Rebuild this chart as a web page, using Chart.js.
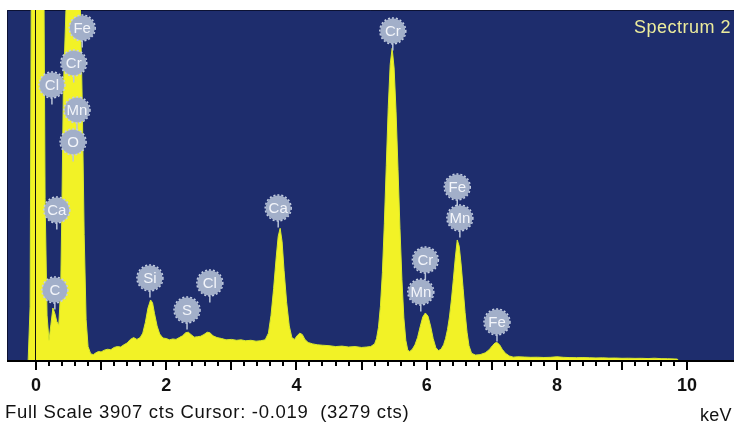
<!DOCTYPE html>
<html>
<head>
<meta charset="utf-8">
<script src="https://cdn.jsdelivr.net/npm/chart.js@4.4.1/dist/chart.umd.min.js"></script>
<style>
  html,body{margin:0;padding:0;background:#fff;}
  #wrap{position:relative;width:734px;height:427px;overflow:hidden;}
  #c{position:absolute;left:0;top:0;}
  .txt{position:absolute;font-family:'Liberation Sans',Arial,sans-serif;color:#111;white-space:pre;}
</style>
</head>
<body>
<div id="wrap">
  <canvas id="c" width="734" height="427"></canvas>
  <div id="caption" class="txt" style="left:5px;top:401px;font-size:18.5px;letter-spacing:0.7px;"></div>
  <div id="unit" class="txt" style="left:700px;top:405px;font-size:18px;letter-spacing:0.3px;">keV</div>
  <div id="specName" class="txt" style="left:634px;top:17px;font-size:18px;letter-spacing:0.5px;color:#ecec9c;"></div>
</div>
<script>
// ---- data ----
const spectrumName = 'Spectrum 2';
const fullScaleCounts = 3907;
const cursorKeV = -0.019;
const cursorCounts = 3279;

const energyKeV = [
 -0.12,-0.09,-0.07,0.12,0.14,0.17,0.20,0.23,0.26,0.29,0.32,0.35,0.38,0.40,0.42,0.46,0.50,0.55,0.60,0.65,
 0.68,0.71,0.74,0.77,0.80,0.84,0.88,0.92,0.96,1.00,1.05,1.10,1.15,1.20,1.25,1.30,1.35,1.40,1.45,1.50,
 1.55,1.60,1.64,1.68,1.72,1.76,1.79,1.82,1.86,1.90,1.95,2.00,2.05,2.10,2.15,2.20,2.25,2.30,2.34,2.38,
 2.43,2.48,2.53,2.58,2.63,2.67,2.72,2.78,2.85,2.92,3.00,3.08,3.15,3.22,3.30,3.38,3.45,3.52,3.57,3.61,
 3.65,3.69,3.72,3.75,3.78,3.81,3.85,3.89,3.93,3.97,4.01,4.05,4.09,4.13,4.18,4.25,4.32,4.40,4.50,4.60,
 4.70,4.80,4.90,5.00,5.08,5.14,5.20,5.23,5.26,5.29,5.32,5.35,5.38,5.41,5.44,5.47,5.50,5.53,5.56,5.59,
 5.62,5.65,5.68,5.71,5.74,5.78,5.82,5.86,5.90,5.94,5.98,6.02,6.06,6.10,6.14,6.18,6.22,6.26,6.29,6.32,
 6.35,6.38,6.41,6.44,6.47,6.50,6.53,6.56,6.59,6.62,6.65,6.69,6.75,6.82,6.90,6.96,7.01,7.05,7.08,7.12,
 7.16,7.21,7.27,7.33,7.40,7.50,7.60,7.70,7.80,7.90,8.00,8.10,8.20,8.30,8.40,8.50,8.60,8.70,8.80,8.90,
 9.00,9.10,9.20,9.30,9.40,9.50,9.60,9.70,9.80,9.85,9.86
];
const counts = [
 0,600,4500,4500,1800,500,220,400,580,520,430,390,800,1800,3000,3900,4400,4700,4800,4600,
 4000,2900,1400,450,150,70,60,80,95,90,110,120,115,140,150,145,170,190,230,250,
 230,250,300,420,580,670,640,520,380,290,245,240,225,235,230,250,270,305,310,285,
 255,260,265,285,310,305,270,250,240,225,230,220,225,215,220,210,215,225,300,500,
 800,1150,1380,1470,1320,1000,640,380,250,230,270,300,285,230,195,180,170,165,160,150,
 155,145,150,140,145,150,180,240,365,600,975,1520,2170,2820,3300,3480,3260,2770,2130,1470,
 900,470,220,110,95,120,170,250,370,480,525,490,380,240,140,105,120,170,240,340,
 480,670,900,1140,1340,1270,1060,800,530,310,160,75,55,60,80,115,160,190,195,170,
 120,75,45,32,36,33,30,31,28,30,36,30,27,26,27,25,23,24,21,22,
 19,20,18,19,16,20,15,14,12,10,0
];

const tickLabelsKeV = [0, 2, 4, 6, 8, 10];

// element markers: symbol, energy (keV), marker centre height (counts)
const markerSymbols = ['Fe','Cr','Cl','Mn','O','Ca','C','Si','S','Cl','Ca','Cr','Cr','Mn','Fe','Mn','Fe'];
const markerKeV     = [0.71,0.58,0.245,0.63,0.57,0.32,0.29,1.75,2.32,2.67,3.72,5.48,5.98,5.91,6.47,6.51,7.08];
const markerCounts  = [3706,3315,3070,2791,2434,1674,781,915,558,860,1697,3673,1116,759,1931,1585,424];

// ---- texts ----
document.getElementById('caption').textContent =
  'Full Scale ' + fullScaleCounts + ' cts Cursor: ' + cursorKeV.toFixed(3) + '  (' + cursorCounts + ' cts)';
document.getElementById('specName').textContent = spectrumName;

const points = energyKeV.map((e, i) => ({x: e, y: counts[i]}));

const NAVY = '#1e2d6d';

const bgPlugin = {
  id: 'bgPlugin',
  beforeDatasetsDraw(chart) {
    const {ctx, chartArea: a} = chart;
    ctx.save();
    ctx.fillStyle = NAVY;
    ctx.fillRect(a.left, a.top, a.right - a.left, a.bottom - a.top);
    ctx.strokeStyle = '#0c1233';
    ctx.lineWidth = 1;
    ctx.beginPath();
    ctx.moveTo(a.left + 0.5, a.bottom);
    ctx.lineTo(a.left + 0.5, a.top + 0.5);
    ctx.lineTo(a.right, a.top + 0.5);
    ctx.stroke();
    ctx.restore();
  },
  afterDatasetsDraw(chart) {
    const {ctx, chartArea: a, scales} = chart;
    const xs = scales.x, ys = scales.y;
    ctx.save();
    // cursor line
    const cx = Math.round(xs.getPixelForValue(cursorKeV)) + 0.5;
    ctx.strokeStyle = '#101010';
    ctx.lineWidth = 1;
    ctx.beginPath();
    ctx.moveTo(cx, a.top);
    ctx.lineTo(cx, a.bottom);
    ctx.stroke();

    // axis line
    ctx.strokeStyle = '#000';
    ctx.lineWidth = 2;
    ctx.beginPath();
    ctx.moveTo(a.left, a.bottom + 1);
    ctx.lineTo(a.right, a.bottom + 1);
    ctx.stroke();
    // tick marks every 0.2 keV, longer at whole keV
    ctx.lineWidth = 2;
    for (let k = 0; k <= 50; k++) {
      const v = k / 5;
      const px = Math.round(xs.getPixelForValue(v));
      const len = (k % 5 === 0) ? 9 : 5;
      ctx.beginPath();
      ctx.moveTo(px, a.bottom + 1);
      ctx.lineTo(px, a.bottom + 1 + len);
      ctx.stroke();
    }

    // element markers
    const r = 12.5;
    ctx.font = "15px 'Liberation Sans', Arial, sans-serif";
    ctx.textAlign = 'center';
    ctx.textBaseline = 'middle';
    markerSymbols.forEach((sym, i) => {
      const px = xs.getPixelForValue(markerKeV[i]);
      const py = ys.getPixelForValue(markerCounts[i]);
      // stem
      ctx.strokeStyle = '#b9c4d8';
      ctx.lineWidth = 1.5;
      ctx.setLineDash([]);
      ctx.beginPath();
      ctx.moveTo(px, py + r);
      ctx.lineTo(px, py + r + 7);
      ctx.stroke();
      // disc
      ctx.fillStyle = '#a2afc9';
      ctx.beginPath();
      ctx.arc(px, py, r, 0, Math.PI * 2);
      ctx.fill();
      ctx.strokeStyle = '#c3cde0';
      ctx.lineWidth = 1.5;
      ctx.setLineDash([2, 2]);
      ctx.beginPath();
      ctx.arc(px, py, r + 0.5, 0, Math.PI * 2);
      ctx.stroke();
      ctx.setLineDash([]);
      ctx.fillStyle = '#f3f5fa';
      ctx.fillText(sym, px, py + 1);
    });
    ctx.restore();
  }
};

new Chart(document.getElementById('c'), {
  type: 'line',
  data: {
    datasets: [{
      data: points,
      fill: 'origin',
      backgroundColor: '#f2f226',
      borderColor: '#d9ea2c',
      borderWidth: 1,
      pointRadius: 0,
      tension: 0
    }]
  },
  options: {
    responsive: false,
    animation: false,
    events: [],
    layout: {padding: {left: 7, top: 10, right: 0, bottom: 0}},
    plugins: {legend: {display: false}, tooltip: {enabled: false}},
    scales: {
      x: {
        type: 'linear',
        min: -0.445,
        max: 10.72,
        grid: {display: false, drawTicks: true, tickLength: 8},
        border: {display: false},
        afterBuildTicks(scale) {
          scale.ticks = tickLabelsKeV.map(v => ({value: v}));
        },
        afterFit(scale) { scale.height = 67; },
        ticks: {
          autoSkip: false,
          maxRotation: 0,
          padding: 7,
          color: '#111',
          font: {family: "'Liberation Sans', Arial, sans-serif", size: 18, weight: 'bold'},
          callback: v => String(v)
        }
      },
      y: {
        display: false,
        min: 0,
        max: fullScaleCounts
      }
    }
  },
  plugins: [bgPlugin]
});
</script>
</body>
</html>
